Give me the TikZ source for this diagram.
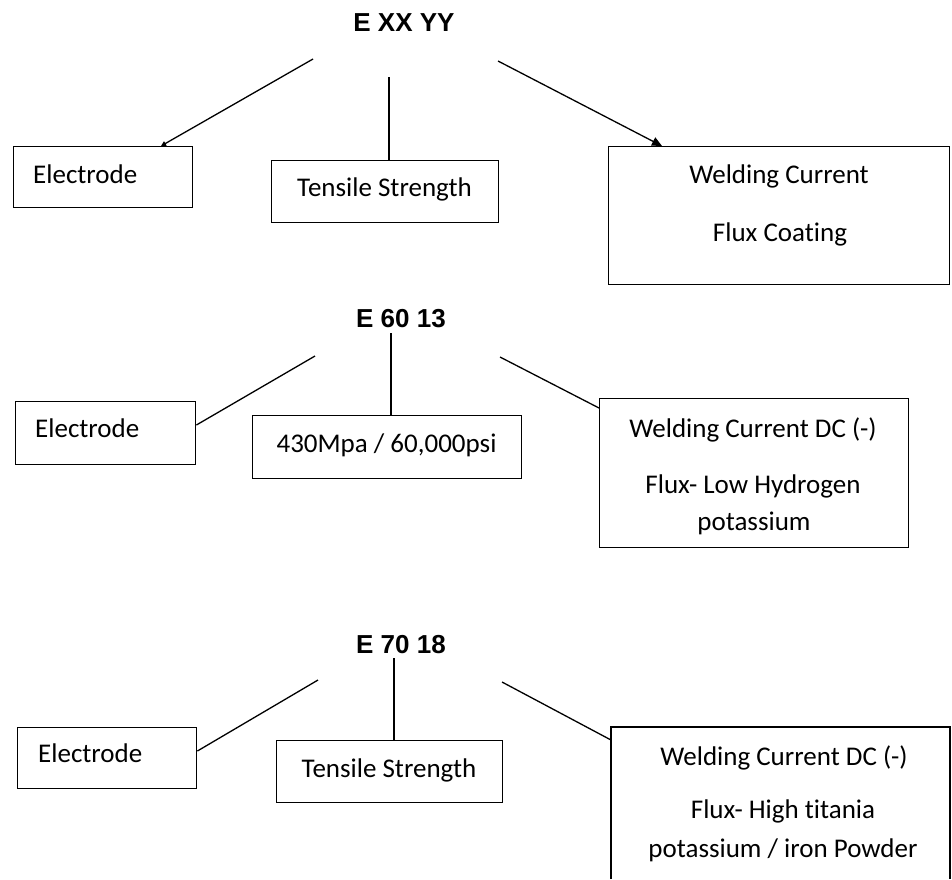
\documentclass[tikz,border=0pt]{standalone}
\usepackage{fontspec}
\setmainfont{Carlito}[Ligatures=NoCommon]
\newfontfamily\titlefont{Liberation Sans}
\usetikzlibrary{arrows.meta}
\tikzset{
  box/.style={draw=black, line width=1.4pt, inner sep=0pt, anchor=north west},
  body/.style={font=\fontsize{27}{32}\selectfont, inner sep=0pt, anchor=base},
  bodyleft/.style={body, anchor=base west},
  ttl/.style={font=\titlefont\bfseries\fontsize{26}{30}\selectfont, inner sep=0pt, anchor=base},
  conn/.style={line width=1.3pt},
}
\begin{document}
\begin{tikzpicture}[x=1pt,y=-1pt]
\useasboundingbox (0,0) rectangle (952,879);
% ---------- block 1 ----------
\node[ttl] (t1) at (404,31) {E XX YY};
\node[box, minimum width=179pt, minimum height=61pt] (e1) at (13,146) {};
\node[bodyleft] (e1t) at (33,183) {Electrode};
\node[box, minimum width=227pt, minimum height=62pt] (s1) at (271,160) {};
\node[body] (s1t) at (384.5,196) {Tensile Strength};
\node[box, minimum width=341pt, minimum height=138pt] (w1) at (608,146) {};
\node[body] (w1a) at (779,183) {Welding Current};
\node[body] (w1b) at (780,241) {Flux Coating};
\coordinate (t1l) at (313,59);
\coordinate (t1m) at (389,77);
\coordinate (t1r) at (498,61);
\draw[conn, -{Triangle[length=5pt,width=5pt]}] (t1l) -- ([xshift=148pt]e1.north west);
\draw[conn] (t1m) -- (t1m |- s1.north);
\draw[conn, -{Triangle[length=10pt,width=9pt]}] (t1r) -- ([xshift=54pt]w1.north west);
% ---------- block 2 ----------
\node[ttl] (t2) at (401,327) {E 60 13};
\node[box, minimum width=180pt, minimum height=63pt] (e2) at (15,401) {};
\node[bodyleft] (e2t) at (35,437) {Electrode};
\node[box, minimum width=269pt, minimum height=63pt] (s2) at (252,415) {};
\node[body] (s2t) at (386.5,452) {430Mpa / 60,000psi};
\node[box, minimum width=309pt, minimum height=149pt] (w2) at (599,398) {};
\node[body] (w2a) at (753,437) {Welding Current DC (-)};
\node[body] (w2b) at (753,493) {Flux- Low Hydrogen};
\node[body] (w2c) at (754,530) {potassium};
\coordinate (t2l) at (315,356);
\coordinate (t2m) at (391,333);
\coordinate (t2r) at (500,357);
\draw[conn] (t2l) -- ([yshift=-24pt]e2.north east);
\draw[conn] (t2m) -- (t2m |- s2.north);
\draw[conn] (t2r) -- ([yshift=-10pt]w2.north west);
% ---------- block 3 ----------
\node[ttl] (t3) at (401,653) {E 70 18};
\node[box, minimum width=179pt, minimum height=61pt] (e3) at (17,727) {};
\node[bodyleft] (e3t) at (38,762) {Electrode};
\node[box, minimum width=226pt, minimum height=62pt] (s3) at (276,740) {};
\node[body] (s3t) at (389,777) {Tensile Strength};
\coordinate (w3bl) at (611,879);
\coordinate (w3tl) at (611,727);
\coordinate (w3tr) at (950,727);
\coordinate (w3br) at (950,879);
\draw[line width=1.4pt] (w3bl) -- (w3tl) -- (w3tr) -- (w3br);
\node[body] (w3a) at (784,765) {Welding Current DC (-)};
\node[body] (w3b) at (783,818) {Flux- High titania};
\node[body] (w3c) at (783,857) {potassium / iron Powder};
\coordinate (t3l) at (318,680);
\coordinate (t3m) at (394,658);
\coordinate (t3r) at (502,682);
\draw[conn] (t3l) -- ([yshift=-24pt]e3.north east);
\draw[conn] (t3m) -- (t3m |- s3.north);
\draw[conn] (t3r) -- ([yshift=-13pt]w3tl);
\end{tikzpicture}
\end{document}
